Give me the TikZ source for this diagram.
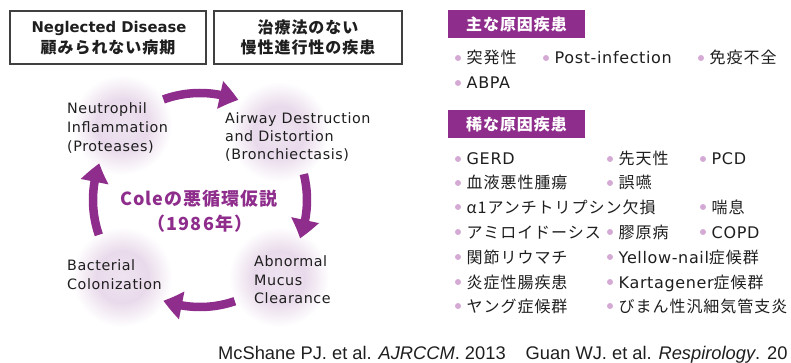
\documentclass[tikz,border=0pt]{standalone}
\usepackage{fontspec}
\setmainfont{DejaVu Sans}
\newfontfamily\lbl{DejaVu Sans}[LetterSpace=4]
\newfontfamily\jp{Noto Sans CJK JP}[LetterSpace=6]
\newfontfamily\citefont{Liberation Sans}
\usetikzlibrary{arrows.meta,bending}
\definecolor{purp}{RGB}{142,45,140}
\definecolor{dotc}{RGB}{212,170,212}
\definecolor{ink}{RGB}{30,30,30}
\definecolor{glowin}{RGB}{238,227,240}
\definecolor{glowmid}{RGB}{233,218,235}
\pgfdeclareradialshading{glow}{\pgfpointorigin}{color(0bp)=(glowin); color(13bp)=(glowmid); color(25bp)=(white); color(50bp)=(white)}
\newcommand\bitem[4]{%
  \node[dot] (#1d) at (#2,#3-6) {};
  \node[item] (#1) at (#2+8.5,#3) {#4};}
\begin{document}
\begin{tikzpicture}[x=1pt,y=-1pt,
  tbox/.style={draw=ink!85, line width=1.2pt, minimum height=53pt, inner sep=0pt},
  hdr/.style={fill=purp, draw=none, minimum width=137pt, minimum height=28pt, inner sep=0pt,
    text=white, font=\fontsize{16}{18}\selectfont\jp\bfseries},
  glowc/.style={circle, minimum size=100pt, inner sep=0pt, shading=glow},
  cyc/.style={draw=purp, line width=8.5pt, -{Triangle[length=19pt,width=27pt,bend]}},
  dot/.style={circle, fill=dotc, minimum size=6pt, inner sep=0pt},
  item/.style={anchor=base west, inner sep=0pt, text=ink, font=\fontsize{16}{18}\selectfont\lbl},
  lab/.style={anchor=base west, inner sep=0pt, text=ink, font=\fontsize{14.3}{16}\selectfont\lbl},
  ttl/.style={inner sep=0pt, text=ink, font=\fontsize{14.8}{16}\selectfont\bfseries},
  jttl/.style={inner sep=0pt, text=ink, font=\fontsize{16}{18}\selectfont\jp\bfseries},
  ctr/.style={anchor=base, inner sep=0pt, text=purp, font=\fontsize{18}{20}\selectfont\jp\bfseries}
]
\useasboundingbox (0,0) rectangle (791,363);

% title boxes
\node[tbox, minimum width=196pt] (b1) at (108,37.5) {};
\node[tbox, minimum width=188pt] (b2) at (308,37.5) {};
\node[ttl, anchor=base] (b1a) at (109,33) {Neglected Disease};
\node[jttl] (b1b) at (108,47) {顧みられない病期};
\node[jttl] (b2a) at (308,27.5) {治療法のない};
\node[jttl] (b2b) at (308,47) {慢性進行性の疾患};

% glow circles
\node[glowc] (neu) at (122,125) {};
\node[glowc] (air) at (279,132) {};
\node[glowc] (muc) at (279,277) {};
\node[glowc] (bac) at (122,277) {};

% cycle arrows
\coordinate (cc) at (200,200);
\draw[cyc] ([shift={(110:107pt)}]cc) arc[start angle=110, end angle=69, radius=107pt];
\draw[cyc] ([shift={(14:107pt)}]cc) arc[start angle=14, end angle=-21, radius=107pt];
\draw[cyc] ([shift={(-71:107pt)}]cc) arc[start angle=-71, end angle=-110, radius=107pt];
\draw[cyc] ([shift={(199:107pt)}]cc) arc[start angle=199, end angle=160, radius=107pt];

% circle labels
\node[lab] (neu1) at (67,114) {Neutrophil};
\node[lab] (neu2) at (67,133) {Inflammation};
\node[lab] (neu3) at (67,152) {(Proteases)};
\node[lab] (air1) at (225,124) {Airway Destruction};
\node[lab] (air2) at (225,142) {and Distortion};
\node[lab] (air3) at (225,160) {(Bronchiectasis)};
\node[lab] (muc1) at (254,266) {Abnormal};
\node[lab] (muc2) at (254,285) {Mucus};
\node[lab] (muc3) at (254,303) {Clearance};
\node[lab] (bac1) at (67,270) {Bacterial};
\node[lab] (bac2) at (67,289) {Colonization};

\node[ctr] (cole) at (199,206) {Coleの悪循環仮説};
\node[ctr] (year) at (200,230) {（1986年）};

% right panel headers
\node[hdr] (h1) at (516.5,24) {主な原因疾患};
\node[hdr] (h2) at (516.5,124) {稀な原因疾患};

% main causes
\bitem{m1}{458}{64}{\jp 突発性}
\bitem{m2}{546}{64}{Post-infection}
\bitem{m3}{701}{64}{\jp 免疫不全}
\bitem{m4}{458}{89}{ABPA}

% rare causes
\bitem{r1}{458}{165}{GERD}
\bitem{r2}{610}{165}{\jp 先天性}
\bitem{r3}{703}{165}{PCD}
\bitem{r4}{458}{189}{\jp 血液悪性腫瘍}
\bitem{r5}{610}{189}{\jp 誤嚥}
\bitem{r6}{458}{213}{\jp α1アンチトリプシン欠損}
\bitem{r7}{703}{213}{\jp 喘息}
\bitem{r8}{458}{238}{\jp アミロイドーシス}
\bitem{r9}{610}{238}{\jp 膠原病}
\bitem{r10}{703}{238}{COPD}
\bitem{r11}{458}{263}{\jp 関節リウマチ}
\bitem{r12}{610}{263}{Yellow-nail{\jp 症候群}}
\bitem{r13}{458}{288}{\jp 炎症性腸疾患}
\bitem{r14}{610}{288}{Kartagener{\jp 症候群}}
\bitem{r15}{458}{312}{\jp ヤング症候群}
\bitem{r16}{610}{312}{\jp びまん性汎細気管支炎}

% citation
\node[anchor=base west, inner sep=0pt, text=ink, font=\fontsize{18.3}{20}\selectfont\citefont] (cite) at (218,359)
  {McShane PJ. et al. \textit{AJRCCM}. 2013\hspace{20pt}Guan WJ. et al. \textit{Respirology}. 20};
\end{tikzpicture}
\end{document}
